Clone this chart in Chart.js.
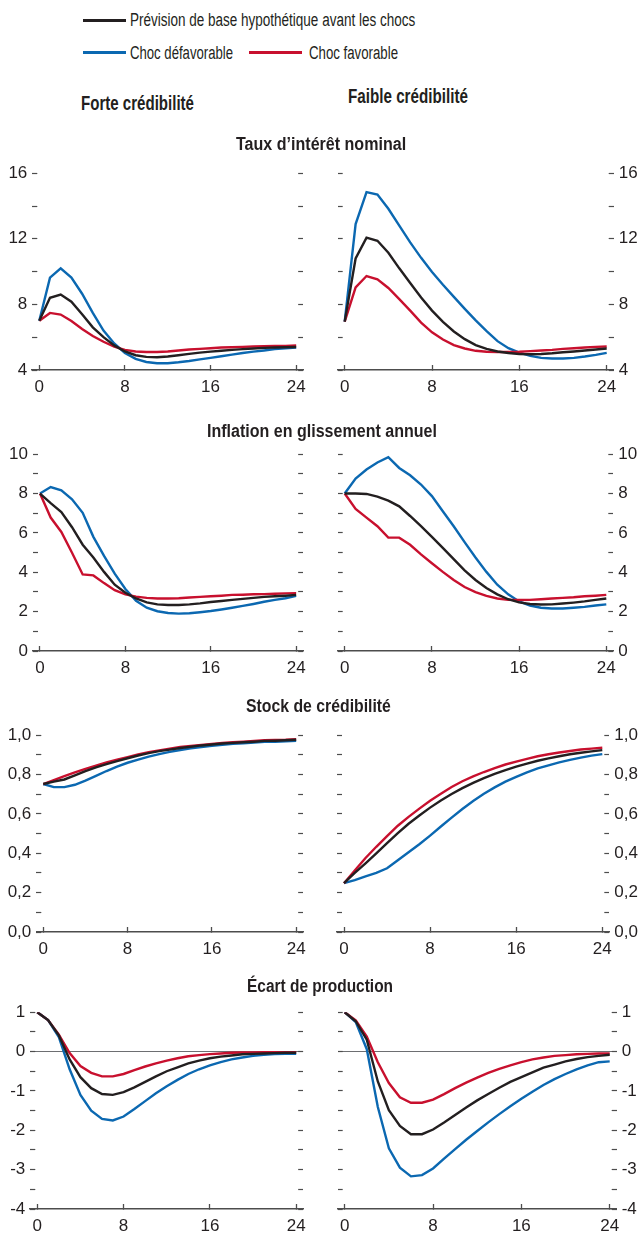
<!DOCTYPE html>
<html>
<head>
<meta charset="utf-8">
<script src="https://cdn.jsdelivr.net/npm/chart.js@4.4.1/dist/chart.umd.min.js"></script>
<style>
body { margin: 0; background: #fff; width: 638px; height: 1234px; position: relative; overflow: hidden;
  font-family: "Liberation Sans", Arial, sans-serif; color: #231f20; }
.t { position: absolute; white-space: nowrap; line-height: 1; transform-origin: 0 0; z-index: 2; }
.b { font-weight: bold; }
.key { position: absolute; height: 3px; }
canvas { position: absolute; }
</style>
</head>
<body>
<div class="key" style="left:83px;top:19px;width:43px;background:#231f20"></div>
<div class="t" data-w="285" style="left:130px;top:11px;font-size:18px">Prévision de base hypothétique avant les chocs</div>
<div class="key" style="left:83px;top:51px;width:43px;background:#0b68b1"></div>
<div class="t" data-w="103" style="left:130px;top:44px;font-size:18px">Choc défavorable</div>
<div class="key" style="left:249px;top:51px;width:53px;background:#c8102e"></div>
<div class="t" data-w="89" style="left:309px;top:44px;font-size:18px">Choc favorable</div>

<div class="t b" data-w="113" style="left:81px;top:93px;font-size:20px">Forte crédibilité</div>
<div class="t b" data-w="120" style="left:348px;top:86px;font-size:20px">Faible crédibilité</div>

<div class="t b" data-w="170" style="left:236px;top:135px;font-size:18px">Taux d’intérêt nominal</div>
<div class="t b" data-w="230" style="left:207px;top:422px;font-size:18px">Inflation en glissement annuel</div>
<div class="t b" data-w="145" style="left:246px;top:697px;font-size:18px">Stock de crédibilité</div>
<div class="t b" data-w="146" style="left:247px;top:977px;font-size:18px">Écart de production</div>

<script>
const quarters = [0, 1, 2, 3, 4, 5, 6, 7, 8, 9, 10, 11, 12, 13, 14, 15, 16, 17, 18, 19, 20, 21, 22, 23, 24];
const xTicks = [0, 8, 16, 24];

// Taux d'intérêt nominal
const tauxForteBase  = [7.0, 8.4, 8.6, 8.16, 7.4, 6.6, 6.0, 5.5, 5.13, 4.9, 4.8, 4.78, 4.82, 4.9, 4.98, 5.06, 5.12, 5.17, 5.23, 5.27, 5.31, 5.35, 5.37, 5.39, 5.4];
const tauxForteDefav = [7.0, 9.63, 10.2, 9.63, 8.65, 7.48, 6.4, 5.62, 5.04, 4.68, 4.49, 4.41, 4.41, 4.47, 4.55, 4.65, 4.74, 4.84, 4.94, 5.04, 5.12, 5.19, 5.27, 5.33, 5.37];
const tauxForteFav   = [7.0, 7.48, 7.38, 6.99, 6.5, 6.07, 5.72, 5.43, 5.23, 5.13, 5.1, 5.1, 5.13, 5.19, 5.25, 5.29, 5.33, 5.37, 5.39, 5.41, 5.43, 5.45, 5.47, 5.47, 5.49];
const tauxFaibleBase  = [6.95, 10.8, 12.07, 11.88, 11.15, 10.2, 9.3, 8.42, 7.62, 6.93, 6.35, 5.88, 5.52, 5.29, 5.13, 5.04, 4.98, 4.96, 4.98, 5.02, 5.08, 5.13, 5.19, 5.25, 5.31];
const tauxFaibleDefav = [6.95, 12.9, 14.85, 14.7, 13.83, 12.8, 11.78, 10.84, 9.98, 9.2, 8.46, 7.73, 7.03, 6.37, 5.76, 5.33, 5.06, 4.86, 4.74, 4.7, 4.7, 4.74, 4.82, 4.92, 5.04];
const tauxFaibleFav   = [6.95, 9.04, 9.73, 9.53, 9.0, 8.32, 7.62, 6.89, 6.3, 5.86, 5.52, 5.31, 5.17, 5.11, 5.1, 5.1, 5.11, 5.15, 5.19, 5.23, 5.29, 5.33, 5.37, 5.41, 5.43];

// Inflation en glissement annuel
const inflForteBase  = [8.0, 7.51, 7.06, 6.29, 5.4, 4.75, 4.02, 3.37, 2.96, 2.67, 2.47, 2.37, 2.34, 2.34, 2.37, 2.42, 2.49, 2.54, 2.6, 2.65, 2.7, 2.75, 2.78, 2.81, 2.85];
const inflForteDefav = [8.0, 8.33, 8.16, 7.71, 7.02, 5.8, 4.83, 3.93, 3.15, 2.55, 2.2, 2.02, 1.93, 1.9, 1.92, 1.97, 2.03, 2.11, 2.2, 2.29, 2.39, 2.5, 2.6, 2.68, 2.8];
const inflForteFav   = [8.0, 6.78, 6.05, 4.99, 3.89, 3.84, 3.45, 3.09, 2.88, 2.76, 2.7, 2.67, 2.67, 2.68, 2.72, 2.75, 2.78, 2.81, 2.85, 2.86, 2.88, 2.89, 2.91, 2.93, 2.94];
const inflFaibleBase  = [8.0, 8.0, 7.98, 7.84, 7.64, 7.35, 6.86, 6.34, 5.8, 5.24, 4.67, 4.1, 3.61, 3.2, 2.88, 2.63, 2.47, 2.39, 2.36, 2.37, 2.41, 2.46, 2.52, 2.6, 2.67];
const inflFaibleDefav = [8.0, 8.76, 9.22, 9.58, 9.85, 9.3, 8.93, 8.46, 7.87, 7.1, 6.34, 5.53, 4.75, 4.02, 3.37, 2.88, 2.52, 2.31, 2.2, 2.16, 2.16, 2.2, 2.24, 2.31, 2.37];
const inflFaibleFav   = [8.0, 7.22, 6.78, 6.34, 5.76, 5.76, 5.4, 4.91, 4.46, 4.02, 3.61, 3.25, 2.99, 2.8, 2.67, 2.6, 2.59, 2.6, 2.63, 2.67, 2.7, 2.73, 2.78, 2.81, 2.85];

// Stock de crédibilité
const credForteBase  = [0.752, 0.764, 0.775, 0.796, 0.818, 0.837, 0.853, 0.868, 0.883, 0.897, 0.909, 0.919, 0.927, 0.935, 0.941, 0.948, 0.953, 0.958, 0.961, 0.964, 0.967, 0.971, 0.972, 0.974, 0.977];
const credForteDefav = [0.752, 0.736, 0.736, 0.748, 0.769, 0.793, 0.818, 0.84, 0.86, 0.876, 0.891, 0.904, 0.915, 0.925, 0.933, 0.94, 0.946, 0.951, 0.956, 0.959, 0.963, 0.966, 0.967, 0.969, 0.971];
const credForteFav   = [0.752, 0.772, 0.792, 0.811, 0.829, 0.845, 0.862, 0.876, 0.889, 0.902, 0.914, 0.923, 0.932, 0.94, 0.946, 0.951, 0.956, 0.961, 0.964, 0.967, 0.971, 0.974, 0.976, 0.977, 0.98];
const credFaibleBase  = [0.248, 0.3, 0.349, 0.4, 0.451, 0.502, 0.55, 0.592, 0.632, 0.668, 0.701, 0.731, 0.758, 0.782, 0.804, 0.823, 0.84, 0.856, 0.87, 0.882, 0.893, 0.903, 0.911, 0.918, 0.924];
const credFaibleDefav = [0.248, 0.264, 0.283, 0.3, 0.324, 0.365, 0.405, 0.446, 0.49, 0.536, 0.581, 0.625, 0.666, 0.702, 0.735, 0.764, 0.788, 0.811, 0.831, 0.847, 0.862, 0.875, 0.886, 0.896, 0.904];
const credFaibleFav   = [0.248, 0.313, 0.376, 0.433, 0.487, 0.54, 0.585, 0.627, 0.667, 0.703, 0.737, 0.766, 0.791, 0.813, 0.833, 0.851, 0.866, 0.88, 0.893, 0.903, 0.912, 0.92, 0.927, 0.932, 0.936];

// Écart de production
const ecartForteBase  = [1.0, 0.8, 0.41, -0.2, -0.65, -0.93, -1.08, -1.1, -1.03, -0.91, -0.77, -0.63, -0.5, -0.4, -0.3, -0.23, -0.17, -0.13, -0.1, -0.07, -0.06, -0.05, -0.04, -0.03, -0.03];
const ecartForteDefav = [1.0, 0.8, 0.37, -0.45, -1.1, -1.5, -1.71, -1.75, -1.65, -1.46, -1.26, -1.06, -0.88, -0.72, -0.57, -0.45, -0.35, -0.27, -0.2, -0.15, -0.11, -0.08, -0.065, -0.057, -0.057];
const ecartForteFav   = [1.0, 0.8, 0.43, -0.04, -0.37, -0.54, -0.63, -0.63, -0.57, -0.47, -0.38, -0.3, -0.23, -0.17, -0.12, -0.09, -0.065, -0.05, -0.03, -0.025, -0.025, -0.016, -0.016, -0.016, -0.016];
const ecartFaibleBase  = [1.0, 0.77, 0.3, -0.76, -1.49, -1.89, -2.1, -2.1, -1.98, -1.8, -1.61, -1.42, -1.24, -1.08, -0.92, -0.77, -0.65, -0.53, -0.41, -0.33, -0.25, -0.19, -0.14, -0.11, -0.08];
const ecartFaibleDefav = [1.0, 0.75, 0.06, -1.41, -2.46, -2.95, -3.17, -3.14, -2.97, -2.72, -2.48, -2.24, -2.02, -1.8, -1.59, -1.39, -1.2, -1.02, -0.85, -0.7, -0.57, -0.45, -0.35, -0.27, -0.25];
const ecartFaibleFav   = [1.0, 0.79, 0.38, -0.27, -0.8, -1.16, -1.3, -1.3, -1.22, -1.08, -0.93, -0.79, -0.66, -0.54, -0.44, -0.35, -0.27, -0.2, -0.15, -0.11, -0.09, -0.07, -0.06, -0.05, -0.05];

const seriesNames = ['Prévision de base hypothétique avant les chocs', 'Choc favorable', 'Choc défavorable'];
const seriesColors = ['#231f20', '#c8102e', '#0b68b1'];

const FONT = '"Liberation Sans", Arial, sans-serif';
const INK = '#231f20';
const AXIS = '#4d4d4d';

// squeeze the html texts to the widths of the condensed face in the original
document.querySelectorAll('.t[data-w]').forEach(el => {
  const w = el.getBoundingClientRect().width;
  el.style.transform = 'scaleX(' + (Number(el.dataset.w) / w).toFixed(3) + ')';
});

// y scale of each row: value range, minor step, labelled values, label text
const rows = [
  { yTop: 165, yBot: 370, min: 4, max: 16, step: 2, isLabel: v => v % 4 === 0, fmt: v => String(v) },
  { yTop: 446, yBot: 651, min: 0, max: 10, step: 1, isLabel: v => v % 2 === 0, fmt: v => String(v) },
  { yTop: 727, yBot: 932, min: 0, max: 1, step: 0.1, isLabel: v => Math.round(v * 10) % 2 === 0, fmt: v => v.toFixed(1).replace('.', ',') },
  { yTop: 1004, yBot: 1209, min: -4, max: 1, step: 0.5, isLabel: v => Number.isInteger(v), fmt: v => String(v), zeroLine: true }
];

const panels = [
  { row: 0, side: 'left',  x0: 39.3, x24: 296.7, data: [tauxForteBase, tauxForteFav, tauxForteDefav] },
  { row: 0, side: 'right', x0: 344.7, x24: 606.7, data: [tauxFaibleBase, tauxFaibleFav, tauxFaibleDefav] },
  { row: 1, side: 'left',  x0: 40, x24: 296.3, data: [inflForteBase, inflForteFav, inflForteDefav] },
  { row: 1, side: 'right', x0: 344.7, x24: 606.3, data: [inflFaibleBase, inflFaibleFav, inflFaibleDefav] },
  { row: 2, side: 'left',  x0: 43.3, x24: 296.7, data: [credForteBase, credForteFav, credForteDefav] },
  { row: 2, side: 'right', x0: 344, x24: 602.3, data: [credFaibleBase, credFaibleFav, credFaibleDefav] },
  { row: 3, side: 'left',  x0: 37.3, x24: 296.7, data: [ecartForteBase, ecartForteFav, ecartForteDefav] },
  { row: 3, side: 'right', x0: 344.7, x24: 609.7, data: [ecartFaibleBase, ecartFaibleFav, ecartFaibleDefav] }
];

const PAD_TOP = 12;
const X_AXIS_H = 30;
const EDGE = 7;

function yAxis(r, position, showLabels, width) {
  return {
    type: 'linear',
    position: position,
    min: r.min,
    max: r.max,
    border: { display: false },
    grid: {
      drawOnChartArea: !!r.zeroLine && position === 'left',
      color: ctx => (ctx.tick && Math.abs(ctx.tick.value) < 1e-9) ? '#6d6e71' : 'rgba(0,0,0,0)',
      lineWidth: 1,
      drawTicks: true,
      tickLength: -5,
      tickColor: AXIS,
      tickWidth: 1.2
    },
    ticks: {
      display: showLabels,
      stepSize: r.step,
      autoSkip: false,
      padding: 10,
      color: INK,
      font: { family: FONT, size: 17 },
      callback: v => r.isLabel(v) ? r.fmt(v) : ''
    },
    afterFit: s => { s.width = width; }
  };
}

panels.forEach(p => {
  const r = rows[p.row];
  const canvasLeft = p.side === 'left' ? 0 : 318;
  const canvasW = p.side === 'left' ? 318 : 320;
  const canvasTop = r.yTop - PAD_TOP;
  const canvasH = (r.yBot - r.yTop) + PAD_TOP + X_AXIS_H;
  const ppu = (p.x24 - p.x0) / 24;
  const leftW = p.x0 - EDGE - canvasLeft;
  const rightW = canvasLeft + canvasW - (p.x24 + EDGE);

  const cv = document.createElement('canvas');
  cv.style.left = canvasLeft + 'px';
  cv.style.top = canvasTop + 'px';
  cv.style.width = canvasW + 'px';
  cv.style.height = canvasH + 'px';
  cv.width = canvasW;
  cv.height = canvasH;
  document.body.insertBefore(cv, document.body.firstChild);

  new Chart(cv, {
    type: 'line',
    data: {
      datasets: p.data.map((vals, i) => ({
        label: seriesNames[i],
        data: quarters.map((q, k) => ({ x: q, y: vals[k] })),
        borderColor: seriesColors[i],
        borderWidth: 2.4,
        pointRadius: 0,
        tension: 0,
        fill: false,
        yAxisID: 'y'
      }))
    },
    options: {
      responsive: false,
      animation: false,
      events: [],
      layout: { padding: { top: PAD_TOP, left: 0, right: 0, bottom: 0 } },
      plugins: { legend: { display: false }, tooltip: { enabled: false } },
      scales: {
        x: {
          type: 'linear',
          position: 'bottom',
          min: -EDGE / ppu,
          max: 24 + EDGE / ppu,
          border: { display: true, color: AXIS, width: 1.6 },
          grid: { drawOnChartArea: false, drawTicks: true, tickLength: -5, tickColor: AXIS, tickWidth: 1.3 },
          ticks: { padding: 12, maxRotation: 0, autoSkip: false, color: INK, font: { family: FONT, size: 17 } },
          afterBuildTicks: s => { s.ticks = xTicks.map(v => ({ value: v })); },
          afterFit: s => { s.height = X_AXIS_H; }
        },
        y: yAxis(r, 'left', p.side === 'left', leftW),
        y2: yAxis(r, 'right', p.side === 'right', rightW)
      }
    }
  });
});
</script>
</body>
</html>
